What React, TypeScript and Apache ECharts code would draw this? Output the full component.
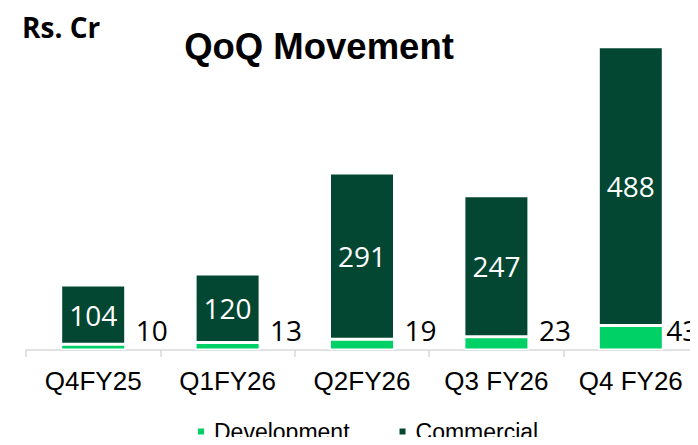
import React, { useEffect, useRef } from "react";
import * as echarts from "echarts";

const categories = ["Q4FY25", "Q1FY26", "Q2FY26", "Q3 FY26", "Q4 FY26"];
const development = [10, 13, 19, 23, 43];
const commercial = [104, 120, 291, 247, 488];

const Y_MAX = 550;
const GRID_TOP = 36;
const GRID_BOTTOM_Y = 350;
const PX_PER_UNIT = (GRID_BOTTOM_Y - GRID_TOP) / Y_MAX;

export default function App() {
  const ref = useRef<HTMLDivElement>(null);
  useEffect(() => {
    if (!ref.current) return;
    const chart = echarts.init(ref.current, undefined, { renderer: "svg" });
    const devData = development.map((v, i) => ({
      value: v,
      label: {
        offset: [i === development.length - 1 ? -2 : 5, (v * PX_PER_UNIT) / 2 - 20],
      },
    }));
    chart.setOption({
      animation: false,
      backgroundColor: "#ffffff",
      graphic: [
        {
          type: "text",
          left: 22,
          top: 13,
          style: {
            text: "Rs. Cr",
            font: "bold 28px 'Open Sans', 'Noto Sans', sans-serif",
            fill: "#000",
          },
        },
        {
          type: "text",
          x: 319,
          y: 46,
          style: {
            text: "QoQ Movement",
            font: "bold 36.5px Arial, 'Liberation Sans', sans-serif",
            fill: "#000",
            align: "center",
            verticalAlign: "middle",
          },
        },
      ],
      legend: {
        left: 191,
        top: 415,
        icon: "rect",
        itemWidth: 8,
        itemHeight: 8,
        itemGap: 48,
        textStyle: {
          fontFamily: "Arial, 'Liberation Sans', sans-serif",
          fontSize: 23,
          color: "#000",
          padding: [0, 0, 0, 4],
        },
        data: ["Development", "Commercial"],
      },
      grid: {
        left: 26,
        right: -1,
        top: GRID_TOP,
        bottom: 445 - GRID_BOTTOM_Y,
        containLabel: false,
      },
      xAxis: {
        type: "category",
        data: categories,
        axisLine: { lineStyle: { color: "#d9d9d9", width: 1.5 } },
        axisTick: { show: true, length: 7, lineStyle: { color: "#d9d9d9", width: 1.5 } },
        axisLabel: {
          interval: 0,
          fontFamily: "Arial, 'Liberation Sans', sans-serif",
          fontSize: 26,
          color: "#000",
          margin: 18,
        },
      },
      yAxis: {
        type: "value",
        min: 0,
        max: Y_MAX,
        show: false,
        splitLine: { show: false },
      },
      series: [
        {
          name: "Development",
          type: "bar",
          stack: "total",
          barWidth: 65,
          data: devData,
          itemStyle: { color: "#00d166", borderColor: "#ffffff", borderWidth: 1.5 },
          label: {
            show: true,
            position: "right",
            color: "#000",
            fontFamily: "'Open Sans', 'Noto Sans', sans-serif",
            fontSize: 28,
          },
        },
        {
          name: "Commercial",
          type: "bar",
          stack: "total",
          barWidth: 65,
          data: commercial,
          itemStyle: { color: "#034732", borderColor: "#ffffff", borderWidth: 1.5 },
          label: {
            show: true,
            position: "inside",
            color: "#fff",
            fontFamily: "'Open Sans', 'Noto Sans', sans-serif",
            fontSize: 28,
          },
        },
      ],
    });
    return () => chart.dispose();
  }, []);
  return <div ref={ref} style={{ width: 698, height: 445, margin: -8 }} />;
}
